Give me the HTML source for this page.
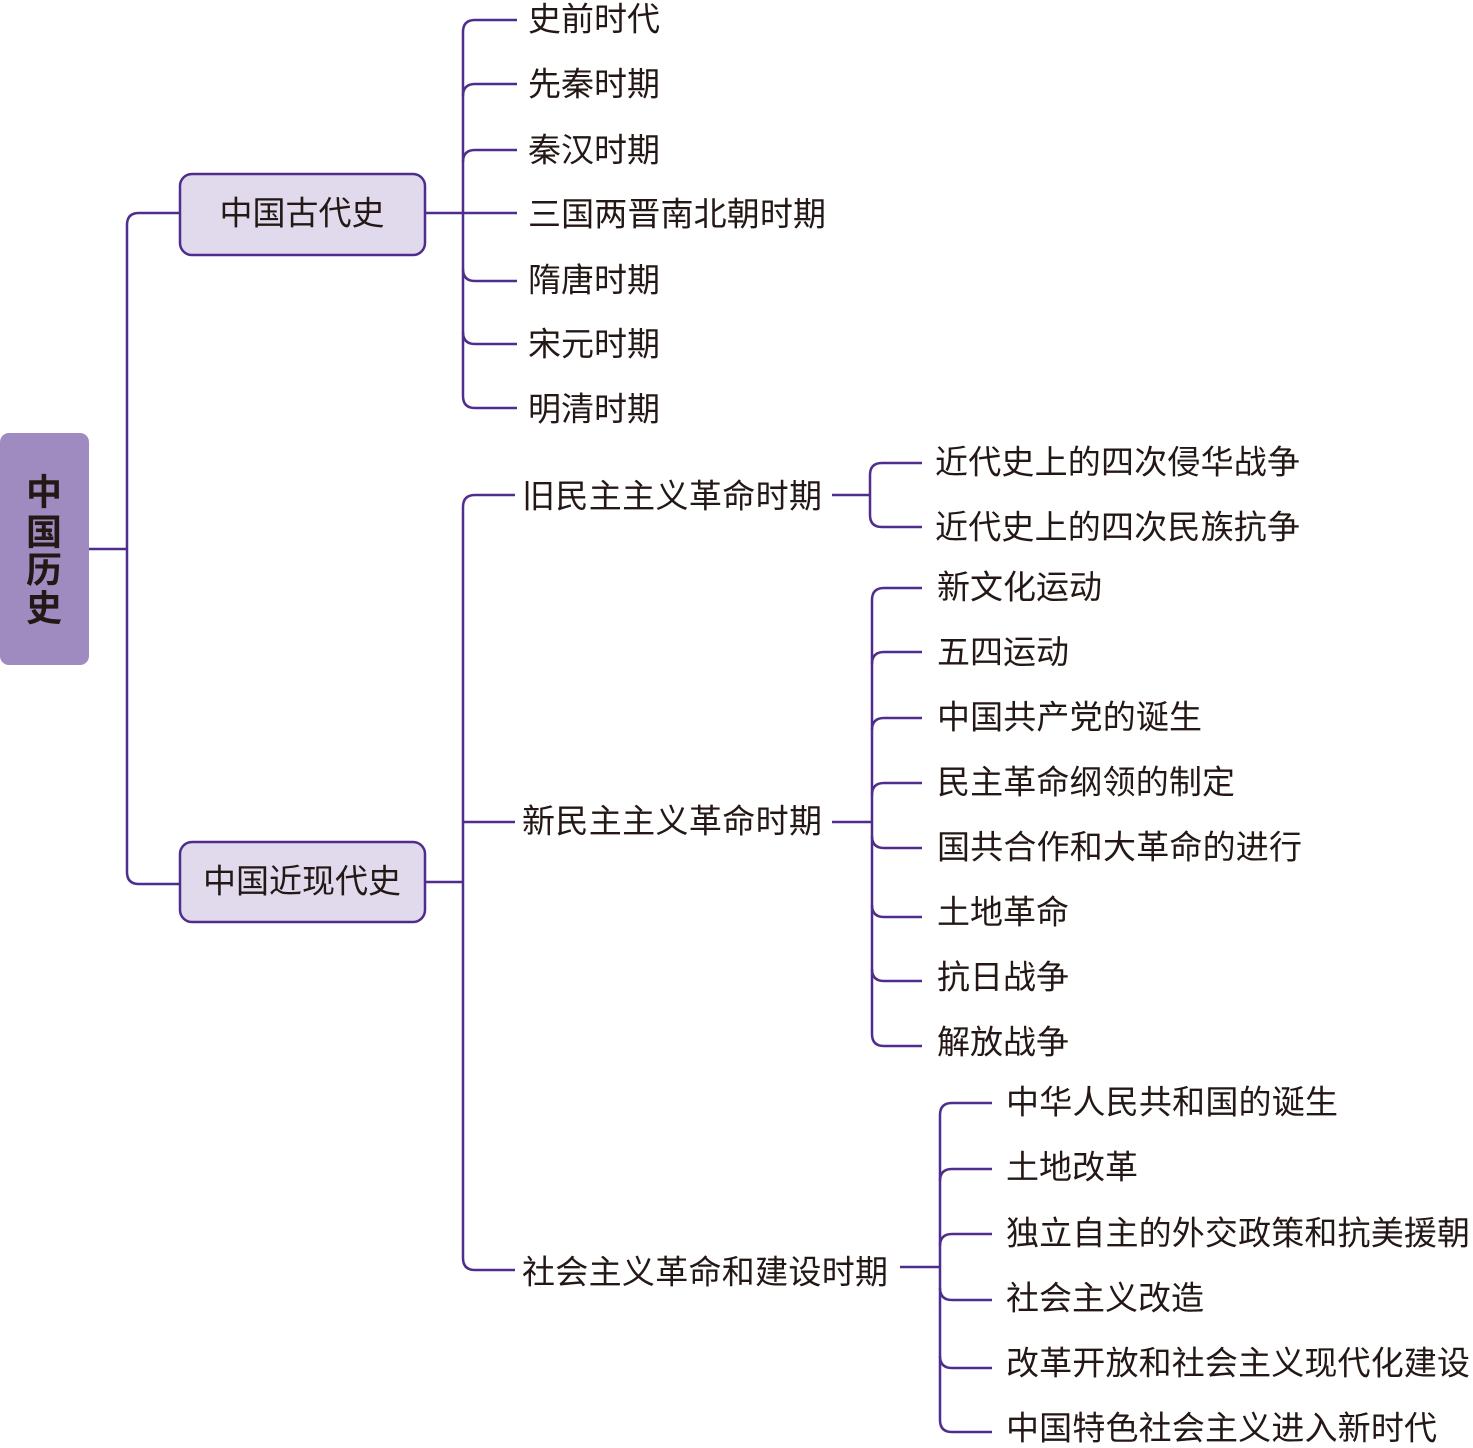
<!DOCTYPE html>
<html><head><meta charset="utf-8"><style>
html,body{margin:0;padding:0;background:#fff}
svg{display:block}
text{font-family:"Liberation Sans","Noto Sans CJK SC",sans-serif;fill:#231815;dominant-baseline:central}
.l{fill:none;stroke:#4f2d8c;stroke-width:2.5}
</style></head><body>
<svg width="1473" height="1448" viewBox="0 0 1473 1448" xmlns="http://www.w3.org/2000/svg">
<!-- root -->
<rect x="0" y="433" width="89" height="232" rx="9" fill="#a08bc0"/>
<g font-size="36" text-anchor="middle">
<text x="44" y="492" style="font-size:36px;font-weight:bold">中</text>
<text x="44" y="532" style="font-size:36px;font-weight:bold">国</text>
<text x="44" y="570" style="font-size:36px;font-weight:bold">历</text>
<text x="44" y="608" style="font-size:36px;font-weight:bold">史</text>
</g>
<path class="l" d="M89 549 H127"/>
<path class="l" d="M180 213 H139 Q127 213 127 225 V872 Q127 884 139 884 H180"/>
<!-- level1 boxes -->
<rect x="180" y="174" width="245" height="81" rx="12" fill="#e0daec" stroke="#4f2d8c" stroke-width="2.5"/>
<text x="302" y="213" font-size="33" text-anchor="middle">中国古代史</text>
<rect x="180" y="842" width="245" height="80" rx="12" fill="#e0daec" stroke="#4f2d8c" stroke-width="2.5"/>
<text x="302" y="881" font-size="33" text-anchor="middle">中国近现代史</text>

<!-- ancient -->
<path class="l" d="M425 213 H517"/>
<path class="l" d="M517 20 H475 Q463 20 463 32 V396 Q463 408 475 408 H517"/>
<path class="l" d="M463 96 Q463 84 475 84 H517 M463 162 Q463 150 475 150 H517 M463 269 Q463 281 475 281 H517 M463 332 Q463 344 475 344 H517"/>
<g font-size="33">
<text x="528" y="19">史前时代</text>
<text x="528" y="84">先秦时期</text>
<text x="528" y="150">秦汉时期</text>
<text x="528" y="214" textLength="298" lengthAdjust="spacing">三国两晋南北朝时期</text>
<text x="528" y="280">隋唐时期</text>
<text x="528" y="344">宋元时期</text>
<text x="528" y="409">明清时期</text>
</g>

<!-- modern -->
<path class="l" d="M425 882 H463"/>
<path class="l" d="M515 495 H475 Q463 495 463 507 V1258 Q463 1270 475 1270 H515"/>
<path class="l" d="M463 822 H515"/>
<g font-size="33">
<text x="522" y="496" textLength="300" lengthAdjust="spacing">旧民主主义革命时期</text>
<text x="522" y="821" textLength="300" lengthAdjust="spacing">新民主主义革命时期</text>
<text x="522" y="1272" textLength="366" lengthAdjust="spacing">社会主义革命和建设时期</text>
</g>

<!-- old democratic -->
<path class="l" d="M832 495 H870"/>
<path class="l" d="M922 463 H882 Q870 463 870 475 V515 Q870 527 882 527 H922"/>
<g font-size="33">
<text x="935" y="462" textLength="365" lengthAdjust="spacing">近代史上的四次侵华战争</text>
<text x="935" y="527" textLength="365" lengthAdjust="spacing">近代史上的四次民族抗争</text>
</g>

<!-- new democratic -->
<path class="l" d="M832 822 H872"/>
<path class="l" d="M922 588 H884 Q872 588 872 600 V1034 Q872 1046 884 1046 H922"/>
<path class="l" d="M872 664 Q872 652 884 652 H922 M872 730 Q872 718 884 718 H922 M872 795 Q872 783 884 783 H922 M872 836 Q872 848 884 848 H922 M872 905 Q872 917 884 917 H922 M872 969 Q872 981 884 981 H922"/>
<g font-size="33">
<text x="937" y="587">新文化运动</text>
<text x="937" y="652">五四运动</text>
<text x="937" y="717" textLength="265" lengthAdjust="spacing">中国共产党的诞生</text>
<text x="937" y="782" textLength="298" lengthAdjust="spacing">民主革命纲领的制定</text>
<text x="937" y="847" textLength="365" lengthAdjust="spacing">国共合作和大革命的进行</text>
<text x="937" y="912">土地革命</text>
<text x="937" y="977">抗日战争</text>
<text x="937" y="1042">解放战争</text>
</g>

<!-- socialist -->
<path class="l" d="M900 1267 H940"/>
<path class="l" d="M992 1103 H952 Q940 1103 940 1115 V1420 Q940 1432 952 1432 H992"/>
<path class="l" d="M940 1181 Q940 1169 952 1169 H992 M940 1246 Q940 1234 952 1234 H992 M940 1288 Q940 1300 952 1300 H992 M940 1356 Q940 1368 952 1368 H992"/>
<g font-size="33">
<text x="1006" y="1102" textLength="332" lengthAdjust="spacing">中华人民共和国的诞生</text>
<text x="1006" y="1167">土地改革</text>
<text x="1006" y="1233" textLength="464" lengthAdjust="spacing">独立自主的外交政策和抗美援朝</text>
<text x="1006" y="1298" textLength="198" lengthAdjust="spacing">社会主义改造</text>
<text x="1006" y="1363" textLength="464" lengthAdjust="spacing">改革开放和社会主义现代化建设</text>
<text x="1006" y="1428" textLength="431" lengthAdjust="spacing">中国特色社会主义进入新时代</text>
</g>
</svg>
</body></html>
